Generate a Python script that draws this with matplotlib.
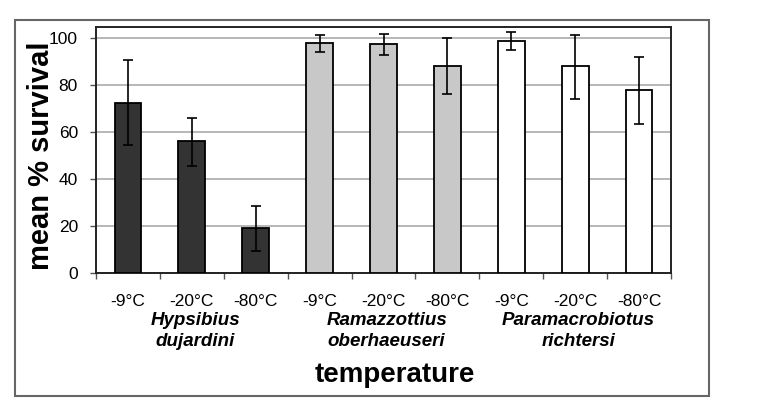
import numpy as np
import matplotlib
matplotlib.use('Agg')
import matplotlib.pyplot as plt
from matplotlib.patches import Rectangle
from matplotlib.transforms import blended_transform_factory

plt.rcParams['font.family'] = ['Liberation Sans', 'DejaVu Sans']

# data
temps = ['-9°C', '-20°C', '-80°C'] * 3
species = ['Hypsibius\ndujardini', 'Ramazzottius\noberhaeuseri', 'Paramacrobiotus\nrichtersi']
survival = [72.5, 56, 19, 98, 97.3, 88, 98.7, 88, 78]
err_up = [18, 10, 9.5, 3.5, 4.5, 12, 3.7, 13.5, 14]
err_down = [18, 10.5, 9.5, 3.8, 4.5, 12, 3.8, 13.8, 14.5]
colors = ['#333333'] * 3 + ['#c8c8c8'] * 3 + ['#ffffff'] * 3

W, H = 768, 404
fig = plt.figure(figsize=(W / 100, H / 100), dpi=100)

# outer frame round the whole chart
fig.patches.append(Rectangle((15 / W, 1 - 396 / H), (709 - 15) / W, (396 - 20) / H,
                             transform=fig.transFigure, fill=False,
                             edgecolor='#666666', linewidth=1.5))

ax = fig.add_axes([96 / W, 1 - 273 / H, (671 - 96) / W, (273 - 27) / H])

x = np.arange(len(survival))
ax.bar(x, survival, width=0.42, color=colors, edgecolor='black', linewidth=1.3, zorder=3)
ax.errorbar(x, survival, yerr=[err_down, err_up], fmt='none', ecolor='black',
            elinewidth=1.2, capsize=3.5, capthick=1.2, zorder=4)

ax.set_xlim(-0.5, len(survival) - 0.5)
ax.set_ylim(0, 104.7)
ax.set_yticks(range(0, 101, 20))
ax.yaxis.grid(True, color='#aaaaaa', linewidth=1.2, zorder=0)
ax.set_axisbelow(True)

ax.set_xticks(x)
ax.set_xticklabels(temps, fontsize=12.5)
ax.set_xticks(np.arange(-0.5, len(survival)), minor=True)
ax.tick_params(axis='x', which='major', length=0, pad=15)
ax.tick_params(axis='x', which='minor', length=4, width=1, color='#555555', direction='out')
ax.tick_params(axis='y', labelsize=12.5, length=4, width=1, color='#555555', pad=9)

for s in ax.spines.values():
    s.set_linewidth(1.4)
    s.set_color('#222222')

# species names under each group
trans = blended_transform_factory(ax.transData, fig.transFigure)
for i, name in enumerate(species):
    ax.text(i * 3 + 1.05, 1 - 331 / H, name, transform=trans,
            ha='center', va='center', fontsize=13.5, fontweight='bold', style='italic',
            linespacing=1.35)

fig.text(395 / W, 1 - 375 / H, 'temperature', ha='center', va='center',
         fontsize=20, fontweight='bold')
fig.text(41 / W, 1 - 156 / H, 'mean % survival', ha='center', va='center',
         rotation=90, fontsize=21, fontweight='bold')

fig.savefig('out.png', dpi=100)
